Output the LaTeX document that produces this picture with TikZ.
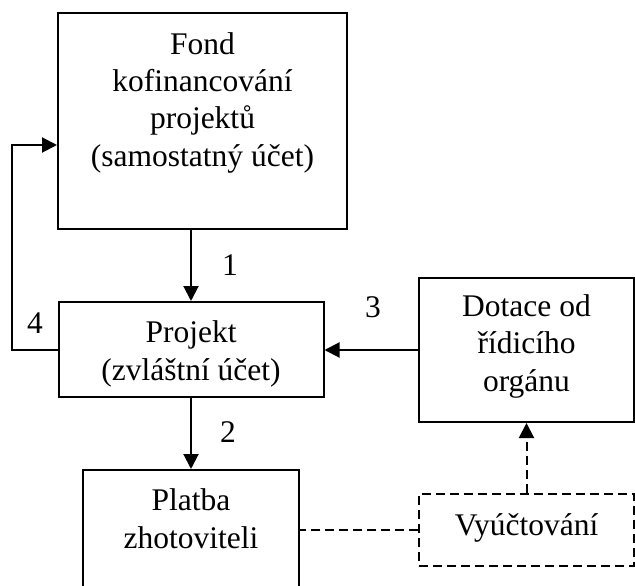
\documentclass[tikz,border=0pt]{standalone}
\usepackage{fontspec}
\setmainfont{Liberation Serif}
\usetikzlibrary{positioning, arrows.meta}
\tikzset{
  box/.style={draw, line width=2pt, inner sep=0pt},
  dbox/.style={box, dash pattern=on 9pt off 5pt},
  txt/.style={align=center, anchor=base, inner sep=0pt, font=\fontsize{31.5}{37.3}\selectfont},
  num/.style={inner sep=0pt, font=\fontsize{31.5}{37.3}\selectfont},
  arr/.style={-{Triangle[length=15pt,width=15pt]}, line width=2pt},
  dline/.style={line width=2pt, dash pattern=on 9pt off 5pt},
  darr/.style={arr, dash pattern=on 9pt off 5pt},
}

\begin{document}
\begin{tikzpicture}[x=1pt, y=-1pt]
  \path[use as bounding box, clip] (0,0) rectangle (635,586);
  % boxes
  \node[box, minimum width=289pt, minimum height=216pt] (fond) at (202.5,121) {};
  \node[box, minimum width=265pt, minimum height=95pt] (proj) at (191,349.5) {};
  \node[box, minimum width=215pt, minimum height=144pt] (dot) at (526.5,350) {};
  \node[box, minimum width=216pt, minimum height=130pt] (plat) at (191,535) {};
  \node[dbox, minimum width=215pt, minimum height=72pt] (vyu) at (526.5,530) {};
  % texts (placed at the baseline of their last line)
  \node[txt] (fondtxt) at (fond.center |- 0,166) {Fond\\kofinancování\\projektů\\(samostatný účet)};
  \node[txt] (projtxt) at (proj.center |- 0,380) {Projekt\\(zvláštní účet)};
  \node[txt] (dottxt) at (dot.center |- 0,391) {Dotace od\\řídicího\\orgánu};
  \node[txt] (plattxt) at (plat.center |- 0,548) {Platba\\zhotoviteli};
  \node[txt] (vyutxt) at (vyu.center |- 0,535) {Vyúčtování};
  % numbers
  \node[num] (n1) at (230,265) {1};
  \node[num] (n2) at (228,432) {2};
  \node[num] (n3) at (373,307) {3};
  \node[num] (n4) at (35,323) {4};
  % connectors
  \coordinate (back) at (12,145);
  \draw[arr] (proj.north |- fond.south) -- (proj.north);
  \draw[arr] (proj.south) -- (plat.north);
  \draw[arr] (dot.west) -- (dot.west -| proj.east);
  \draw[arr] (proj.west) -| (back) -- (back -| fond.west);
  \draw[dline] (vyu.west) -- (vyu.west -| plat.east);
  \draw[darr] (vyu.north) -- (dot.south);
\end{tikzpicture}
\end{document}
